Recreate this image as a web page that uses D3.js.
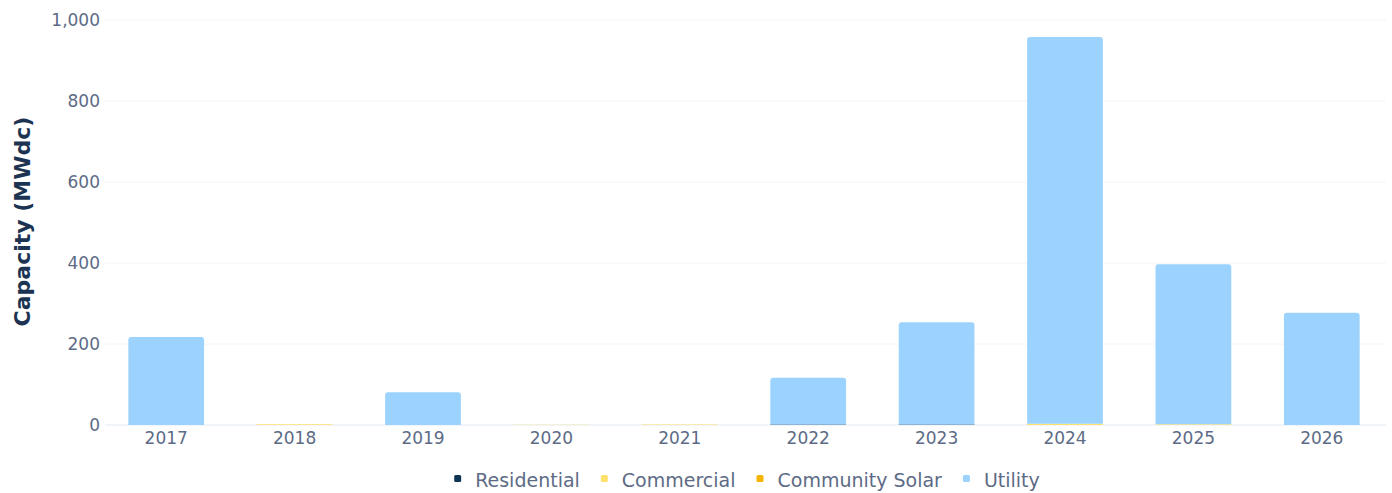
<!DOCTYPE html>
<html><head><meta charset="utf-8">
<script src="https://cdn.jsdelivr.net/npm/d3@7"></script>
<style>
body{margin:0;background:#fff;}
text{font-family:"DejaVu Sans",sans-serif;}
</style></head>
<body><svg id="c" width="1392" height="493"></svg>
<script>
const years = ["2017","2018","2019","2020","2021","2022","2023","2024","2025","2026"];
const residential = [0, 0, 0, 0, 0, 1.5, 1, 0, 0, 0];
const commercial = [0, 2, 0, 0.5, 1.5, 0, 0, 3, 2, 0];
const communitySolar = [0, 0, 0, 0, 0, 0, 0, 0, 0, 0];
const utility = [217, 0, 81, 0, 0, 115, 253, 955, 395, 277];
const seriesNames = ["Residential","Commercial","Community Solar","Utility"];
const seriesColors = ["#0f3554","#ffe16b","#f7b500","#9cd3fe"];
const yTicks = [0,200,400,600,800,1000];

const svg = d3.select("#c");
const m = {l:102, r:6, t:20, b:68};
const W = 1392, H = 493;
const x = d3.scaleBand().domain(years).range([m.l, W-m.r]).paddingInner(0.41).paddingOuter(0.205);
const y = d3.scaleLinear().domain([0,1000]).range([H-m.b, m.t]);

// grid
svg.append("g").selectAll("line").data(yTicks).join("line")
  .attr("x1", m.l+3).attr("x2", W-m.r).attr("y1", d=>y(d)).attr("y2", d=>y(d))
  .attr("stroke", d=> d===0 ? "#e3eaf2" : "#f2f4f8").attr("stroke-width",1);

// y axis
const ya = svg.append("g").attr("transform",`translate(${m.l},0)`)
  .call(d3.axisLeft(y).tickValues(yTicks).tickFormat(d3.format(",")).tickSize(0).tickPadding(2));
ya.select(".domain").remove();
ya.selectAll("text").attr("fill","#5d6b86").style("font-size","17px").style("font-family","'DejaVu Sans',sans-serif");

// x axis
const xa = svg.append("g").attr("transform",`translate(0,${y(0)})`)
  .call(d3.axisBottom(x).tickSize(0).tickPadding(7));
xa.select(".domain").remove();
xa.selectAll("text").attr("fill","#5d6b86").style("font-size","17px").style("font-family","'DejaVu Sans',sans-serif");

// stacked bars
const table = years.map((yr,i)=>({year:yr, Residential:residential[i], Commercial:commercial[i], "Community Solar":communitySolar[i], Utility:utility[i]}));
const stack = d3.stack().keys(seriesNames)(table);
const r = 3;
stack.forEach((layer, li)=>{
  svg.append("g").selectAll("path").data(layer).join("path")
    .attr("fill", seriesColors[li])
    .attr("d", d=>{
      const x0 = x(d.data.year), w = x.bandwidth();
      const yt = y(d[1]), yb = y(d[0]);
      const h = yb - yt;
      if (h <= 0) return "";
      const rr = (li===3 && h>r) ? r : 0;
      return `M${x0},${yb}V${yt+rr}Q${x0},${yt} ${x0+rr},${yt}H${x0+w-rr}Q${x0+w},${yt} ${x0+w},${yt+rr}V${yb}Z`;
    });
});

// y label
svg.append("text").attr("transform",`translate(30,${y(500)-1}) rotate(-90)`)
  .attr("text-anchor","middle").attr("fill","#1c3352")
  .style("font-size","22px").style("font-weight","700").text("Capacity (MWdc)");

// legend
const lg = svg.append("g").attr("transform",`translate(0,487)`);
const widths = [];
const tmp = lg.append("g");
seriesNames.forEach(n=>{
  const t = tmp.append("text").style("font-size","19px").text(n);
  widths.push(t.node().getComputedTextLength());
});
tmp.remove();
const markToText = 21, textToMark = 21;
const total = d3.sum(widths) + seriesNames.length*markToText + textToMark*(seriesNames.length-1);
let cx = 747 - total/2;
seriesNames.forEach((n,i)=>{
  lg.append("rect").attr("x",cx).attr("y",-12).attr("width",7).attr("height",7).attr("rx",1.5).attr("fill",seriesColors[i]);
  lg.append("text").attr("x",cx+markToText).attr("y",0).attr("fill","#5d6b86").style("font-size","19px").text(n);
  cx += markToText + widths[i] + textToMark;
});
</script></body></html>
